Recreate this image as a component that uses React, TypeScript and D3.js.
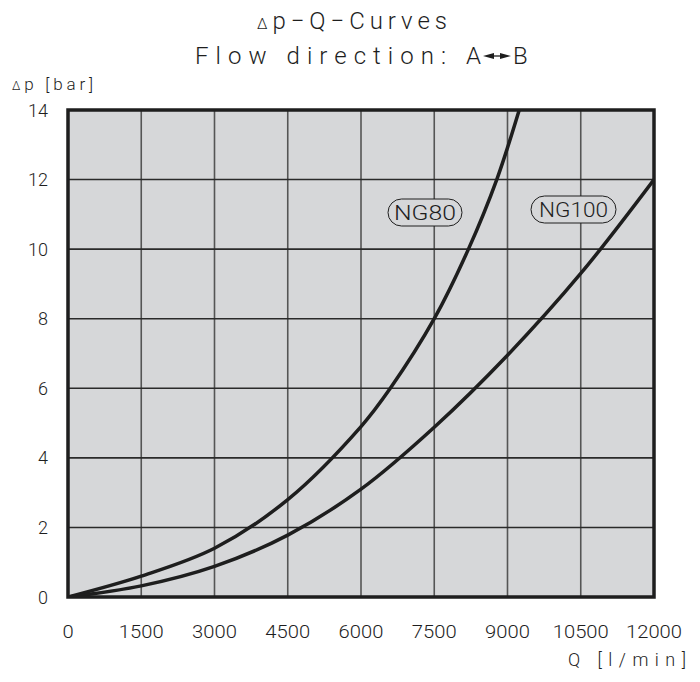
import React from "react";
import * as d3 from "d3";

// flow Q [l/min] vs pressure drop [bar]
const ng80Q = [0, 1500, 3000, 4500, 6000, 6600, 7500, 8200, 8780, 9240];
const ng80P = [0, 0.6, 1.4, 2.8, 4.9, 6.0, 8.0, 10.0, 12.0, 14.0];
const ng100Q = [0, 1500, 3000, 4500, 6000, 7500, 9000, 10500, 12000];
const ng100P = [0, 0.32, 0.88, 1.78, 3.1, 4.88, 6.95, 9.3, 12.0];

const xTicks = [0, 1500, 3000, 4500, 6000, 7500, 9000, 10500, 12000];
const yTicks = [0, 2, 4, 6, 8, 10, 12, 14];

const FONT = "Roboto, 'DejaVu Sans', sans-serif";
const INK = "#1e1e1e";
const BG = "#d6d7d9";

const App = () => {
  const x = d3.scaleLinear().domain([0, 12000]).range([68, 654]);
  const y = d3.scaleLinear().domain([0, 14]).range([597, 110]);

  const line = d3
    .line<[number, number]>()
    .x((d) => x(d[0]))
    .y((d) => y(d[1]))
    .curve(d3.curveCatmullRom.alpha(0.5));

  const ng80 = ng80Q.map((q, i) => [q, ng80P[i]] as [number, number]);
  const ng100 = ng100Q.map((q, i) => [q, ng100P[i]] as [number, number]);

  const txt = { fontFamily: FONT, fontWeight: 300, fill: INK } as const;

  return (
    <svg
      width={700}
      height={682}
      style={{ position: "absolute", left: 0, top: 0, background: "#fff" }}
    >
      <defs>
        <clipPath id="plot">
          <rect x={68} y={110} width={586} height={487} />
        </clipPath>
      </defs>

      {/* titles */}
      <text x={257} y={29} fontSize={24} textLength={190} lengthAdjust="spacing" {...txt}>
        <tspan fontSize={15}>Δ</tspan>p−Q−Curves
      </text>
      <text x={195} y={64} fontSize={24} textLength={286} lengthAdjust="spacing" {...txt}>
        Flow direction: A
      </text>
      {/* double arrow A <-> B */}
      <line x1={490} y1={56} x2={504} y2={56} stroke={INK} strokeWidth={1.3} />
      <path d="M483,56 L494,53 L494,59 Z" fill={INK} />
      <path d="M511,56 L500,53 L500,59 Z" fill={INK} />
      <text x={513} y={64} fontSize={24} {...txt}>B</text>

      <text x={12} y={90} fontSize={17} textLength={81} lengthAdjust="spacing" {...txt}>
        <tspan fontSize={12}>Δ</tspan>p [bar]
      </text>
      <text x={568} y={666} fontSize={18} textLength={118} lengthAdjust="spacing" {...txt}>
        Q [l/min]
      </text>

      {/* plot area */}
      <rect x={68} y={110} width={586} height={487} fill={BG} />
      {xTicks.slice(1, -1).map((t) => (
        <line key={"vx" + t} x1={x(t)} x2={x(t)} y1={110} y2={597} stroke="#555" strokeWidth={1.6} />
      ))}
      {yTicks.slice(1, -1).map((t) => (
        <line key={"hy" + t} x1={68} x2={654} y1={y(t)} y2={y(t)} stroke="#2a2a2a" strokeWidth={1.6} />
      ))}

      <g clipPath="url(#plot)">
        <path d={line(ng80) || ""} fill="none" stroke={INK} strokeWidth={3.5} />
        <path d={line(ng100) || ""} fill="none" stroke={INK} strokeWidth={3.5} />
      </g>

      <rect x={68} y={110} width={586} height={487} fill="none" stroke={INK} strokeWidth={3.5} />

      {/* curve labels */}
      <rect x={388} y={199} width={74} height={27} rx={13.5} fill={BG} stroke={INK} strokeWidth={1} />
      <text x={425} y={213} fontSize={21} textAnchor="middle" dominantBaseline="central" textLength={62} lengthAdjust="spacingAndGlyphs" {...txt}>
        NG80
      </text>
      <rect x={531} y={196} width={85} height={27} rx={13.5} fill={BG} stroke={INK} strokeWidth={1} />
      <text x={573.5} y={210} fontSize={21} textAnchor="middle" dominantBaseline="central" textLength={69} lengthAdjust="spacingAndGlyphs" {...txt}>
        NG100
      </text>

      {/* tick labels */}
      {yTicks.map((t) => (
        <text key={"yl" + t} x={48} y={y(t)} fontSize={19} textAnchor="end" dominantBaseline="central" textLength={String(t).length * 10} lengthAdjust="spacingAndGlyphs" {...txt}>
          {t}
        </text>
      ))}
      {xTicks.map((t) => (
        <text key={"xl" + t} x={x(t)} y={631} fontSize={19} textAnchor="middle" dominantBaseline="central" textLength={String(t).length * 11.2} lengthAdjust="spacingAndGlyphs" {...txt}>
          {t}
        </text>
      ))}
    </svg>
  );
};

export default App;
